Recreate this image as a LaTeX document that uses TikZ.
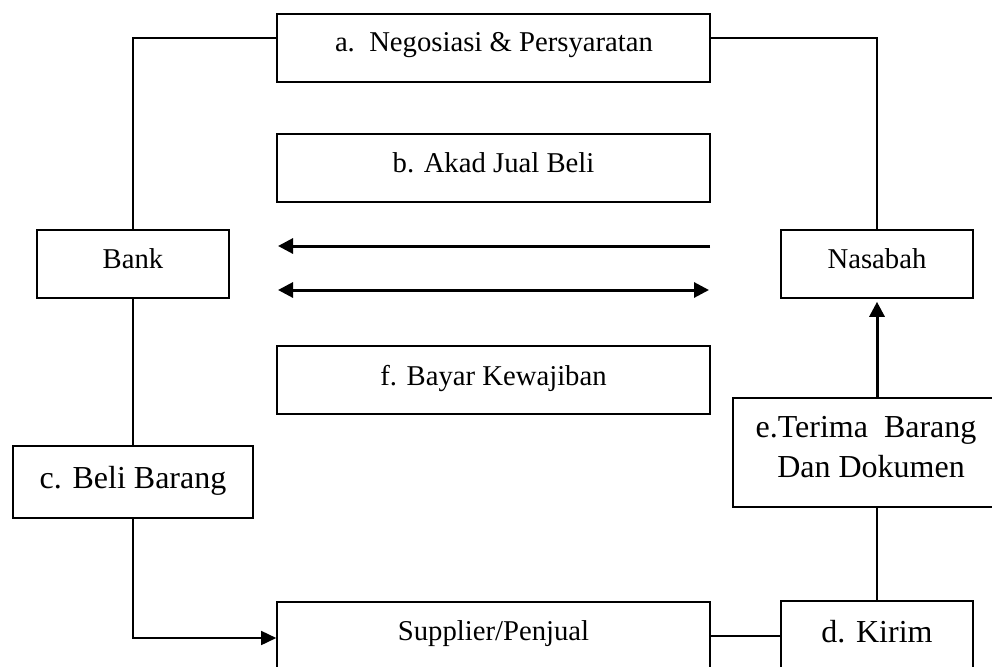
\documentclass[tikz,border=0pt]{standalone}
\usepackage{fontspec}
\setmainfont{Liberation Serif}
\usetikzlibrary{arrows.meta}
\tikzset{bigtip/.tip={Triangle[length=15pt,width=15pt]}}
\begin{document}
\begin{tikzpicture}[x=1pt,y=-1pt,
  box/.style={draw, line width=1.6pt, rectangle, inner sep=0pt},
  txt/.style={anchor=base, inner sep=0pt, font=\fontsize{28.7}{34}\selectfont},
  bigtxt/.style={anchor=base, inner sep=0pt, align=center, font=\fontsize{32}{40}\selectfont},
  conn/.style={line width=1.6pt},
  thick arrow/.style={line width=3pt}
]
\useasboundingbox (0,0) rectangle (992,666);
\clip (0,0) rectangle (992,666);
% boxes
\node[box, minimum width=433pt, minimum height=68pt] (a) at (493.5,48) {};
\node[box, minimum width=433pt, minimum height=68pt] (b) at (493.5,168) {};
\node[box, minimum width=192pt, minimum height=68pt] (bank) at (133,264) {};
\node[box, minimum width=192pt, minimum height=68pt] (nas) at (877,264) {};
\node[box, minimum width=433pt, minimum height=68pt] (f) at (493.5,380) {};
\node[box, minimum width=240pt, minimum height=72pt] (c) at (133,482) {};
\node[box, minimum width=288pt, minimum height=109pt] (e) at (877,452.5) {};
\node[box, minimum width=433pt, minimum height=70pt] (sup) at (493.5,637) {};
\node[box, minimum width=192pt, minimum height=72pt] (d) at (877,637) {};
% texts
\node[txt] (ta) at (494,52) {a.\ \ Negosiasi \& Persyaratan};
\node[txt] (tb) at (493.5,172) {b. Akad Jual Beli};
\node[txt] (tbank) at (133,268) {Bank};
\node[txt] (tnas) at (877,268) {Nasabah};
\node[txt] (tf) at (493.5,385) {f. Bayar Kewajiban};
\node[bigtxt] (tc) at (133,488) {c. Beli Barang};
\node[bigtxt] (te1) at (866,437) {e.Terima\ \ Barang};
\node[bigtxt] (te2) at (871,477) {Dan Dokumen};
\node[txt] (tsup) at (493.5,640) {Supplier/Penjual};
\node[bigtxt] (td) at (877,642) {d. Kirim};
% free arrow ends
\coordinate (r1) at (710,246);
\coordinate (l1) at (278,246);
\coordinate (r2) at (709,290);
\coordinate (l2) at (278,290);
% connectors
\draw[conn] (a.west |- 0,38) -| (bank.north);
\draw[conn] (a.east |- 0,38) -| (nas.north);
\draw[conn] (bank.south) -- (c.north);
\draw[conn, -{Triangle[length=15pt,width=14pt]}] (c.south) |- (sup.west |- 0,638);
\draw[thick arrow, -{bigtip}] (r1) -- (l1);
\draw[thick arrow, {bigtip}-{bigtip}] (l2) -- (r2);
\draw[thick arrow, -{bigtip}] (e.north -| nas.south) -- ([yshift=-3pt]nas.south);
\draw[conn] (e.south -| d.north) -- (d.north);
\draw[conn] (sup.east |- 0,636) -- (d.west |- 0,636);
\end{tikzpicture}
\end{document}
